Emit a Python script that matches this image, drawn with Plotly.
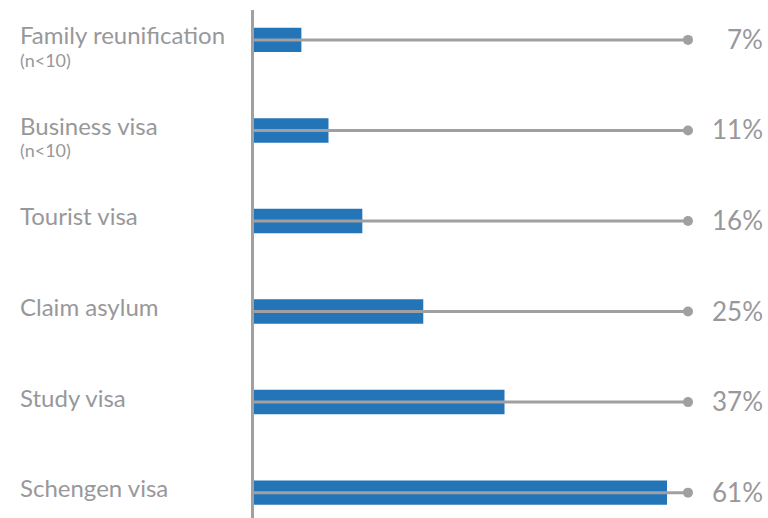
import plotly.graph_objects as go

# Reasons for the visa / entry route, share of respondents
categories = ["Family reunification", "Business visa", "Tourist visa",
              "Claim asylum", "Study visa", "Schengen visa"]
notes = ["(n<10)", "(n<10)", "", "", "", ""]
values = [7, 11, 16, 25, 37, 61]

BLUE = "#2474b8"
GREY = "#a0a0a2"
TEXT = "#98989b"
FONT = "Lato"

X_END = 64.1          # right end of the grey track
pos = list(range(len(categories)))

fig = go.Figure()

# grey track behind each bar
track_x, track_y = [], []
for p in pos:
    track_x += [0, X_END, None]
    track_y += [p, p, None]

fig.add_trace(go.Bar(
    x=values, y=pos, orientation="h", width=0.27,
    marker=dict(color=BLUE, line=dict(width=0)),
    hoverinfo="skip",
))
fig.add_trace(go.Scatter(
    x=track_x, y=track_y, mode="lines",
    line=dict(color=GREY, width=3), hoverinfo="skip", cliponaxis=False,
))
fig.add_trace(go.Scatter(
    x=[X_END] * len(pos), y=pos, mode="markers",
    marker=dict(color=GREY, size=10), hoverinfo="skip", cliponaxis=False,
))

LEFT = (18 - 254) / 434
RIGHT = (765 - 254) / 434

annotations = []
for p, name, note, v in zip(pos, categories, notes, values):
    annotations.append(dict(
        xref="paper", yref="y", x=LEFT, y=p, xanchor="left", yanchor="middle",
        text=name, showarrow=False, yshift=5,
        font=dict(family=FONT, size=24, color=TEXT),
    ))
    if note:
        annotations.append(dict(
            xref="paper", yref="y", x=LEFT, y=p, xanchor="left", yanchor="middle",
            text=note, showarrow=False, yshift=-20,
            font=dict(family=FONT, size=18, color=TEXT),
        ))
    annotations.append(dict(
        xref="paper", yref="y", x=RIGHT, y=p, xanchor="right", yanchor="middle",
        text=f"{v}%", showarrow=False, yshift=1,
        font=dict(family=FONT, size=26, color=TEXT),
    ))

fig.update_layout(
    width=768, height=518,
    margin=dict(l=254, r=80, t=10, b=0),
    paper_bgcolor="white", plot_bgcolor="white",
    showlegend=False,
    barmode="overlay",
    annotations=annotations,
    xaxis=dict(range=[0, X_END], visible=False, fixedrange=True),
    yaxis=dict(range=[5.28, -0.33], showticklabels=False, ticks="",
               showgrid=False, zeroline=False,
               showline=True, linecolor=GREY, linewidth=3),
)

fig.write_html("out.html")
